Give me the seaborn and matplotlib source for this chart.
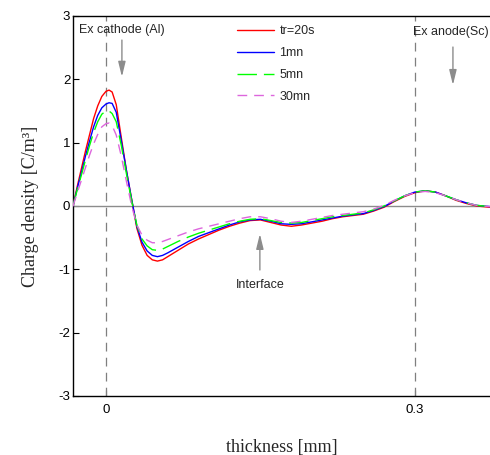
import numpy as np
import pandas as pd
import matplotlib
matplotlib.use("Agg")
import matplotlib.pyplot as plt
import seaborn as sns

x = [-0.032, -0.028, -0.024, -0.02, -0.016, -0.012, -0.008, -0.004, 0.0, 0.003, 0.006,
     0.01, 0.015, 0.02, 0.025, 0.03, 0.035, 0.04, 0.045, 0.05, 0.055, 0.06, 0.07, 0.08,
     0.09, 0.10, 0.11, 0.12, 0.13, 0.14, 0.15, 0.16, 0.17, 0.18, 0.19, 0.20, 0.21, 0.22,
     0.23, 0.24, 0.25, 0.26, 0.27, 0.28, 0.29, 0.30, 0.31, 0.32, 0.33, 0.34, 0.35, 0.36, 0.373]

red = [0.0, 0.30, 0.58, 0.86, 1.12, 1.38, 1.58, 1.73, 1.81, 1.83, 1.80,
       1.60, 1.07, 0.55, 0.10, -0.35, -0.62, -0.78, -0.85, -0.87, -0.85, -0.80, -0.70, -0.60,
       -0.52, -0.45, -0.38, -0.32, -0.27, -0.23, -0.22, -0.26, -0.30, -0.32, -0.30, -0.27, -0.24, -0.20,
       -0.17, -0.15, -0.13, -0.08, -0.02, 0.07, 0.15, 0.21, 0.24, 0.22, 0.16, 0.09, 0.04, 0.0, -0.02]

blue = [0.0, 0.27, 0.52, 0.78, 1.02, 1.25, 1.43, 1.55, 1.61, 1.63, 1.62,
        1.48, 1.02, 0.55, 0.10, -0.32, -0.57, -0.71, -0.78, -0.80, -0.78, -0.74, -0.65, -0.56,
        -0.48, -0.42, -0.36, -0.30, -0.25, -0.22, -0.21, -0.24, -0.28, -0.29, -0.28, -0.25, -0.22, -0.19,
        -0.16, -0.14, -0.12, -0.07, -0.01, 0.08, 0.16, 0.22, 0.24, 0.22, 0.16, 0.10, 0.05, 0.01, -0.01]

green = [0.0, 0.25, 0.48, 0.72, 0.95, 1.16, 1.33, 1.45, 1.50, 1.50, 1.46,
         1.33, 0.95, 0.50, 0.08, -0.30, -0.52, -0.63, -0.69, -0.70, -0.68, -0.64, -0.56, -0.49,
         -0.43, -0.38, -0.33, -0.28, -0.24, -0.21, -0.20, -0.23, -0.26, -0.27, -0.26, -0.23, -0.20, -0.17,
         -0.15, -0.13, -0.11, -0.06, 0.0, 0.08, 0.16, 0.22, 0.24, 0.22, 0.16, 0.10, 0.05, 0.01, -0.01]

pink = [0.0, 0.20, 0.40, 0.60, 0.80, 0.98, 1.13, 1.25, 1.30, 1.31, 1.27,
        1.12, 0.78, 0.38, 0.0, -0.30, -0.46, -0.54, -0.58, -0.58, -0.56, -0.53, -0.47, -0.41,
        -0.36, -0.32, -0.28, -0.24, -0.20, -0.17, -0.17, -0.20, -0.24, -0.26, -0.24, -0.21, -0.18, -0.15,
        -0.13, -0.11, -0.09, -0.05, 0.01, 0.09, 0.16, 0.21, 0.23, 0.21, 0.16, 0.10, 0.05, 0.01, -0.01]

labels = ["tr=20s", "1mn", "5mn", "30mn"]
series = [red, blue, green, pink]
xticks = [0, 0.3]
xticklabels = ["0", "0.3"]
yticks = [-3, -2, -1, 0, 1, 2, 3]

rows = []
for lab, vals in zip(labels, series):
    for xi, yi in zip(x, vals):
        rows.append({"thickness": xi, "rho": yi, "series": lab})
df = pd.DataFrame(rows)

sns.set_style("white")
plt.rcParams["font.family"] = ["Liberation Sans", "DejaVu Sans"]
plt.rcParams["axes.unicode_minus"] = False

fig = plt.figure(figsize=(4.9, 4.55), dpi=100)
ax = fig.add_axes([73/490, 1-396/455, 1-73/490, (396-16)/455])

palette = {"tr=20s": "#ff0000", "1mn": "#0000ff", "5mn": "#00ff00", "30mn": "#dd66dd"}
dashes = {"tr=20s": "", "1mn": "", "5mn": (14, 5), "30mn": (7, 5)}

ax.axhline(0, color="#8c8c8c", lw=1.0, zorder=1)
for xv in xticks:
    ax.axvline(xv, color="#7f7f7f", lw=0.9, dashes=(7, 5), zorder=1)

sns.lineplot(data=df, x="thickness", y="rho", hue="series", style="series",
             palette=palette, dashes=dashes, hue_order=labels, style_order=labels,
             lw=1.0, ax=ax, legend=True, sort=False, estimator=None, zorder=3)

ax.set_xlim(-0.032, 0.373)
ax.set_ylim(-3, 3)
ax.set_xticks(xticks)
ax.set_xticklabels(xticklabels)
ax.set_yticks(yticks)
ax.tick_params(direction="in", length=4, width=0.8, labelsize=9.5, colors="black",
               bottom=True, left=True, top=False, right=False)
ax.tick_params(axis="x", pad=6)
ax.tick_params(axis="y", pad=2)
for s in ["left", "bottom", "top"]:
    ax.spines[s].set_visible(True)
    ax.spines[s].set_color("black")
    ax.spines[s].set_linewidth(1.0)
ax.spines["right"].set_visible(False)

ax.set_xlabel("thickness [mm]", fontfamily="Liberation Serif", fontsize=13, labelpad=16)
ax.set_ylabel("Charge density [C/m³]", fontfamily="Liberation Serif", fontsize=13, labelpad=14)

h, l = ax.get_legend_handles_labels()
leg = ax.legend(h, l, loc="upper left", bbox_to_anchor=(0.393, 0.975), frameon=False,
                fontsize=9, handlelength=3.0, handletextpad=0.4, labelspacing=0.78,
                borderpad=0, borderaxespad=0)

arrow = dict(arrowstyle="-|>,head_length=0.9,head_width=0.22", color="#8c8c8c", lw=1.0,
             shrinkA=0, shrinkB=0)
ax.text(0.0155, 2.78, "Ex cathode (Al)", ha="center", va="center", fontsize=9)
ax.annotate("", xy=(0.0155, 2.04), xytext=(0.0155, 2.62), arrowprops=arrow)
ax.text(0.335, 2.75, "Ex anode(Sc)", ha="center", va="center", fontsize=9)
ax.annotate("", xy=(0.337, 1.91), xytext=(0.337, 2.51), arrowprops=arrow)
ax.text(0.1495, -1.25, "Interface", ha="center", va="center", fontsize=9)
ax.annotate("", xy=(0.1495, -0.44), xytext=(0.1495, -1.01), arrowprops=arrow)

fig.savefig("out.png", dpi=100)
